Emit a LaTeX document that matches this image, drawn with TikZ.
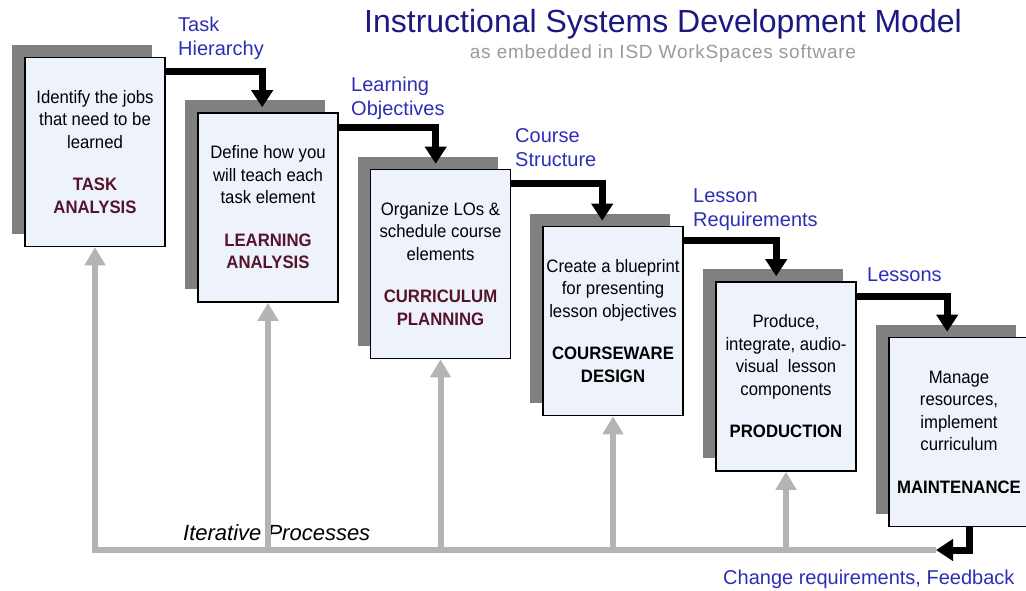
\documentclass[tikz,border=0pt]{standalone}
\usepackage{fontspec}
\setmainfont{Liberation Sans}
\newfontfamily\boxfont[FakeStretch=0.93]{Liberation Sans}
\newfontfamily\subfont[LetterSpace=4]{Liberation Sans}
\usetikzlibrary{calc, arrows.meta, shadows}
\definecolor{boxfill}{HTML}{EEF3FB}
\definecolor{shade}{HTML}{808080}
\definecolor{stepred}{HTML}{55142A}
\definecolor{lblblue}{HTML}{2E2EB4}
\definecolor{titleblue}{HTML}{1A1A80}
\definecolor{subgray}{HTML}{9A9A9A}
\definecolor{backgray}{HTML}{B4B4B4}
\newcommand{\stgred}[1]{{\color{stepred}\bfseries #1}}
\newcommand{\stgblk}[1]{{\bfseries #1}}

\begin{document}
\begin{tikzpicture}[x=1pt,y=-1pt,
    stage/.style={draw, line width=1.6pt, fill=boxfill, minimum width=140pt,
      minimum height=189pt, inner sep=2pt, align=center,
      font=\boxfont\fontsize{18}{22.5}\selectfont,
      drop shadow={shadow xshift=-13pt, shadow yshift=13pt, fill=shade, opacity=1}},
    flow/.style={line width=7pt, -{Triangle[width=21pt,length=17pt]}},
    back/.style={backgray, line width=6pt, -{Triangle[width=20pt,length=18pt]}},
    lbl/.style={lblblue, align=left, inner sep=0pt, anchor=north west,
      font=\fontsize{20}{24}\selectfont}]
    \useasboundingbox (0,0) rectangle (1026,590);
    % title
    \node[titleblue, anchor=base, inner sep=0pt, font=\fontsize{32}{36}\selectfont] (title) at (663,32)
      {Instructional Systems Development Model};
    \node[subgray, anchor=base, inner sep=0pt, font=\subfont\fontsize{19}{22}\selectfont] (sub) at (663,58)
      {as embedded in ISD WorkSpaces software};
    % stages
    \node[stage] (b1) at (95,152) {Identify the jobs\\that need to be\\learned\\[20pt]
      \stgred{TASK}\\\stgred{ANALYSIS}};
    \node[stage] (b2) at (268,207.5) {Define how you\\will teach each\\task element\\[20pt]
      \stgred{LEARNING}\\\stgred{ANALYSIS}};
    \node[stage] (b3) at (440.5,264) {Organize LOs \&\\schedule course\\elements\\[20pt]
      \stgred{CURRICULUM}\\\stgred{PLANNING}};
    \node[stage] (b4) at (613,321) {Create a blueprint\\for presenting\\lesson objectives\\[20pt]
      \stgblk{COURSEWARE}\\\stgblk{DESIGN}};
    \node[stage] (b5) at (786,376.5) {Produce,\\integrate, audio-\\visual~ lesson\\components\\[20pt]
      \stgblk{PRODUCTION}};
    \node[stage] (b6) at (959,432) {Manage\\resources,\\implement\\curriculum\\[20pt]
      \stgblk{MAINTENANCE}};
    % products
    \node[lbl] (l1) at (178,17) {Task\\Hierarchy};
    \node[lbl] (l2) at (351,77) {Learning\\Objectives};
    \node[lbl] (l3) at (515,128) {Course\\Structure};
    \node[lbl] (l4) at (693,189) {Lesson\\Requirements};
    \node[lbl] (l5) at (867,268) {Lessons};
    \node[lblblue, anchor=base west, inner sep=0pt, font=\fontsize{20}{24}\selectfont] (fb) at (723,584.5)
      {Change requirements, Feedback};
    \node[anchor=base west, inner sep=0pt, font=\fontsize{22}{26}\selectfont\itshape] (it) at (183,540)
      {Iterative Processes};
    % feedback lines
    \coordinate (loop) at (936,550);
    \draw[back] (loop) -| (b1.south);
    \draw[back] (b2.south |- loop) -- (b2.south);
    \draw[back] (b3.south |- loop) -- (b3.south);
    \draw[back] (b4.south |- loop) -- (b4.south);
    \draw[back] (b5.south |- loop) -- (b5.south);
    % forward lines
    \draw[flow] ([yshift=-15pt]b1.north east) -| ([xshift=65pt,yshift=5pt]b2.north west);
    \draw[flow] ([yshift=-15pt]b2.north east) -| ([xshift=66pt,yshift=5pt]b3.north west);
    \draw[flow] ([yshift=-15pt]b3.north east) -| ([xshift=60pt,yshift=5pt]b4.north west);
    \draw[flow] ([yshift=-15pt]b4.north east) -| ([xshift=61pt,yshift=5pt]b5.north west);
    \draw[flow] ([yshift=-15pt]b5.north east) -| ([xshift=59pt,yshift=5pt]b6.north west);
    \draw[flow] ([xshift=81pt]b6.south west) |- (loop);
  \end{tikzpicture}
\end{document}
